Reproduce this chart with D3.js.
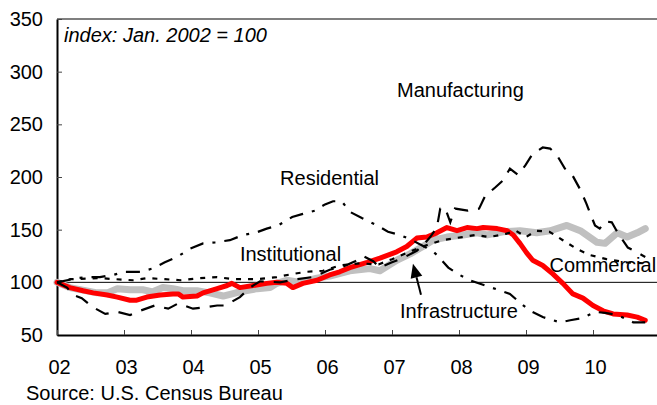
<!DOCTYPE html>
<html>
<head>
<meta charset="utf-8">
<script src="https://cdn.jsdelivr.net/npm/d3@7"></script>
<style>
  html, body { margin: 0; padding: 0; background: #fff; overflow: hidden; }
  svg { display: block; }
  text { font-family: "Liberation Sans", Arial, sans-serif; }
</style>
</head>
<body>
<svg id="chart" width="657" height="405"></svg>
<script>
// ---------- data (index: Jan. 2002 = 100) ----------
const yTicks = [50, 100, 150, 200, 250, 300, 350];
const xTickYears = [2002, 2003, 2004, 2005, 2006, 2007, 2008, 2009, 2010];
const xTickLabels = ["02", "03", "04", "05", "06", "07", "08", "09", "10"];

const commercialYears = [2002.00,2002.19,2002.39,2002.54,2002.75,2002.90,2003.09,2003.19,2003.34,2003.54,2003.73,2003.81,2003.88,2004.09,2004.18,2004.39,2004.54,2004.61,2004.73,2004.93,2005.13,2005.28,2005.43,2005.52,2005.67,2005.88,2006.07,2006.22,2006.37,2006.63,2006.82,2007.07,2007.22,2007.37,2007.52,2007.67,2007.82,2007.97,2008.12,2008.27,2008.36,2008.57,2008.72,2008.81,2008.91,2009.01,2009.10,2009.25,2009.40,2009.55,2009.70,2009.85,2010.00,2010.15,2010.30,2010.51,2010.66,2010.78];
const commercialValues = [100,95,92,90,88,86,83,83,86,88,89,89,86,87,90,94,97,99,95,97,99,100,99,95,99,102,107,110,114,119,123,129,134,142,143,147,152,149,152,151,152,151,149,145,137,128,121,116,108,99,89,85,78,73,70,69,67,64];

const infrastructureYears = [2002.00,2002.19,2002.60,2002.75,2002.90,2003.09,2003.28,2003.43,2003.58,2003.73,2003.88,2004.09,2004.28,2004.48,2004.73,2004.99,2005.18,2005.28,2005.43,2005.63,2005.88,2006.07,2006.37,2006.67,2006.82,2007.07,2007.27,2007.46,2007.61,2007.82,2008.06,2008.27,2008.42,2008.66,2008.91,2009.16,2009.36,2009.61,2009.81,2010.06,2010.18,2010.36,2010.51,2010.66,2010.78];
const infrastructureValues = [100,95,90,90,94,93,93,91,95,94,92,92,90,87,91,94,95,99,102,100,104,106,111,113,111,121,127,134,140,143,145,147,145,148,149,147,149,154,149,138,137,147,143,147,151];

const manufacturingYears = [2002.00,2002.15,2002.24,2002.37,2002.52,2002.72,2002.90,2003.09,2003.24,2003.46,2003.66,2003.81,2004.03,2004.18,2004.39,2004.51,2004.73,2004.88,2005.03,2005.33,2005.58,2005.82,2006.07,2006.27,2006.45,2006.57,2006.72,2006.82,2007.00,2007.16,2007.37,2007.46,2007.57,2007.67,2007.72,2007.79,2007.87,2007.94,2008.13,2008.30,2008.39,2008.54,2008.66,2008.76,2008.88,2008.99,2009.10,2009.25,2009.36,2009.46,2009.58,2009.69,2009.81,2009.90,2009.96,2010.03,2010.10,2010.18,2010.28,2010.37,2010.52,2010.67,2010.78];
const manufacturingValues = [100,95,88,85,77,70,72,69,73,78,75,80,75,76,78,78,86,95,101,100,103,105,112,115,120,125,120,114,119,123,130,135,143,152,170,171,157,170,168,170,182,190,197,208,202,211,222,228,227,221,208,202,188,175,165,154,151,158,157,147,133,128,124];

const residentialYears = [2002.00,2002.30,2002.45,2002.64,2002.84,2003.01,2003.24,2003.42,2003.61,2003.79,2003.99,2004.18,2004.36,2004.58,2004.78,2004.96,2005.13,2005.30,2005.51,2005.67,2005.85,2006.00,2006.12,2006.25,2006.37,2006.55,2006.78,2006.94,2007.12,2007.30,2007.45,2007.60,2007.67,2007.84,2008.01,2008.16,2008.39,2008.58,2008.76,2008.96,2009.09,2009.25,2009.51,2009.66,2009.84,2010.03,2010.18,2010.36,2010.60,2010.78];
const residentialValues = [100,104,105,105,107,110,110,113,119,124,132,137,138,140,145,147,151,154,162,165,168,174,177,177,167,161,154,148,145,140,135,130,126,114,107,102,97,93,89,78,72,67,62,64,66,72,71,69,62,62];

const institutionalYears = [2002.00,2002.20,2002.64,2002.87,2003.13,2003.34,2003.61,2003.84,2004.13,2004.39,2004.63,2004.99,2005.28,2005.52,2005.73,2005.97,2006.07,2006.22,2006.52,2006.80,2007.00,2007.30,2007.55,2007.75,2008.05,2008.25,2008.45,2008.70,2008.85,2009.00,2009.15,2009.35,2009.55,2009.75,2009.95,2010.20,2010.50,2010.78];
const institutionalValues = [100,103,104,103,102,104,103,102,104,105,103,103,105,108,110,111,113,116,118,117,122,130,136,140,143,145,143,146,149,143,149,148,140,132,126,122,119,118];

// ---------- chart ----------
const svg = d3.select("#chart");
const x = d3.scaleLinear().domain([2002, 2011]).range([57, 660]);
const y = d3.scaleLinear().domain([50, 350]).range([335, 19]);

function pts(years, values) { return years.map((yr, i) => [yr, values[i]]); }
const line = d3.line().x(d => x(d[0])).y(d => y(d[1]));

// top frame
svg.append("line")
  .attr("x1", x(2002)).attr("x2", x(2011))
  .attr("y1", y(350)).attr("y2", y(350))
  .attr("stroke", "#555").attr("stroke-width", 1.5);

// 100 reference line
svg.append("line")
  .attr("x1", x(2002)).attr("x2", x(2011))
  .attr("y1", y(100)).attr("y2", y(100))
  .attr("stroke", "#000").attr("stroke-width", 1);

// axes
const yAxis = d3.axisLeft(y).tickValues(yTicks).tickSizeInner(-5).tickSizeOuter(0).tickPadding(14);
const gy = svg.append("g").attr("transform", `translate(${x(2002)},0)`).call(yAxis);
const xAxis = d3.axisBottom(x).tickValues(xTickYears).tickFormat((d, i) => xTickLabels[i])
  .tickSizeInner(-5).tickSizeOuter(0).tickPadding(25);
const gx = svg.append("g").attr("transform", `translate(0,${y(50)})`).call(xAxis);

[gx, gy].forEach(g => {
  g.select(".domain").attr("stroke", "#000").attr("stroke-width", 2);
  g.selectAll(".tick line").attr("stroke", "#444").attr("stroke-width", 1);
  g.selectAll(".tick text").attr("fill", "#000")
    .style("font-family", '"Liberation Sans", Arial, sans-serif').style("font-size", "20px");
});
gx.selectAll(".tick text").attr("dx", 2);

// series
svg.append("path").datum(pts(infrastructureYears, infrastructureValues))
  .attr("d", line).attr("fill", "none").attr("stroke", "#c0c0c0")
  .attr("stroke-width", 7).attr("stroke-linejoin", "round").attr("stroke-linecap", "round");

svg.append("path").datum(pts(commercialYears, commercialValues))
  .attr("d", line).attr("fill", "none").attr("stroke", "#ff0000")
  .attr("stroke-width", 5).attr("stroke-linejoin", "round").attr("stroke-linecap", "round");

svg.append("path").datum(pts(institutionalYears, institutionalValues))
  .attr("d", line).attr("fill", "none").attr("stroke", "#000")
  .attr("stroke-width", 2.2).attr("stroke-dasharray", "5,7");

svg.append("path").datum(pts(residentialYears, residentialValues))
  .attr("d", line).attr("fill", "none").attr("stroke", "#000")
  .attr("stroke-width", 2.2).attr("stroke-dasharray", "14,9,3,9");

svg.append("path").datum(pts(manufacturingYears, manufacturingValues))
  .attr("d", line).attr("fill", "none").attr("stroke", "#000")
  .attr("stroke-width", 2.2).attr("stroke-dasharray", "14,10");

// annotations (positions in data units)
const labels = [
  { text: "Manufacturing", yr: 2007.075, v: 275.9 },
  { text: "Residential", yr: 2005.33, v: 192.4 },
  { text: "Institutional", yr: 2004.73, v: 120.3 },
  { text: "Infrastructure", yr: 2007.12, v: 66.1 },
  { text: "Commercial", yr: 2009.35, v: 109.8 }
];
svg.selectAll("text.lbl").data(labels).enter().append("text")
  .attr("class", "lbl")
  .attr("x", d => x(d.yr)).attr("y", d => y(d.v))
  .attr("font-size", 20).attr("fill", "#000")
  .text(d => d.text);

svg.append("text")
  .attr("x", x(2002) + 7).attr("y", y(350) + 23)
  .attr("font-size", 20).attr("font-style", "italic").attr("fill", "#000")
  .text("index: Jan. 2002 = 100");

// arrow from Infrastructure label
const tail = [x(2007.433), y(88.2)], tip = [x(2007.313), y(117.6)];
const dx = tip[0] - tail[0], dy = tip[1] - tail[1], L = Math.hypot(dx, dy);
const ux = dx / L, uy = dy / L, hl = 14, hw = 6;
const bx = tip[0] - ux * hl, by = tip[1] - uy * hl;
svg.append("line").attr("x1", tail[0]).attr("y1", tail[1]).attr("x2", bx).attr("y2", by)
  .attr("stroke", "#000").attr("stroke-width", 2);
svg.append("path")
  .attr("d", `M${tip[0]},${tip[1]}L${bx - uy * hw},${by + ux * hw}L${bx + uy * hw},${by - ux * hw}Z`)
  .attr("fill", "#000");

// source
svg.append("text").attr("x", 26).attr("y", 400)
  .attr("font-size", 20).attr("fill", "#000")
  .text("Source: U.S. Census Bureau");
</script>
</body>
</html>
